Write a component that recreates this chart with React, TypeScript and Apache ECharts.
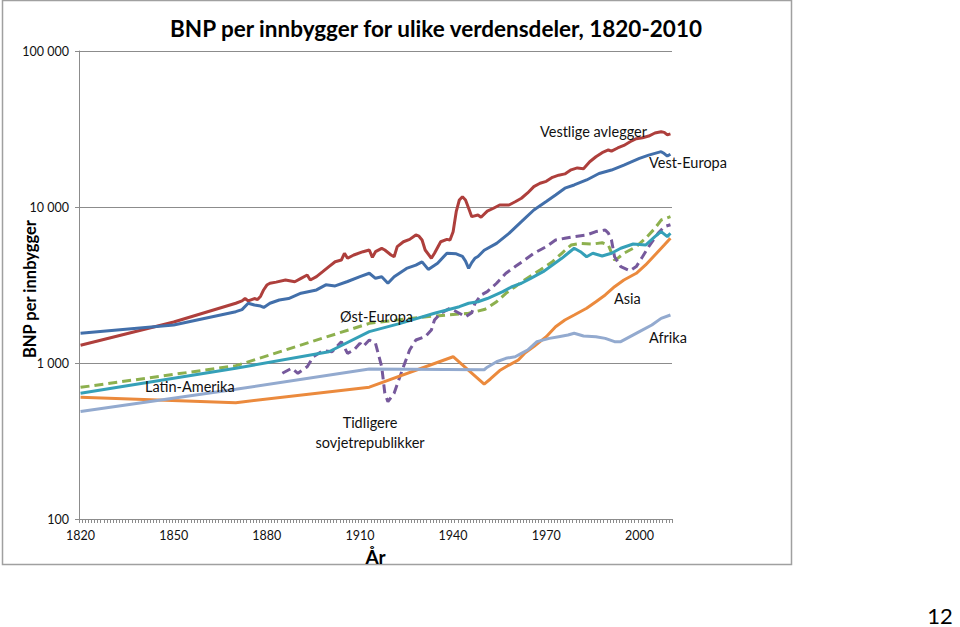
import React, { useEffect, useRef } from "react";
import * as echarts from "echarts";

const FIRST_YEAR = 1820;
const LAST_YEAR = 2010;
const years: string[] = [];
for (let y = FIRST_YEAR; y <= LAST_YEAR; y++) years.push(String(y));

const yTicks = [100, 1000, 10000, 100000];

const vestligeAvlegger: [number, number][] = [
  [1820, 1300], [1850, 1830], [1870, 2415], [1872, 2500], [1873, 2590], [1874, 2500], [1876, 2590], [1877, 2550],
  [1878, 2680], [1879, 2950], [1880, 3160], [1881, 3243], [1883, 3300], [1886, 3404], [1889, 3320], [1891, 3490],
  [1893, 3665], [1894, 3404], [1896, 3575], [1898, 3848], [1900, 4150], [1902, 4460], [1904, 4570], [1905, 5050],
  [1906, 4690], [1908, 4923], [1911, 5170], [1913, 5300], [1914, 4755], [1915, 5170], [1917, 5430], [1918, 5300],
  [1920, 4923], [1921, 4800], [1922, 5570], [1924, 5990], [1926, 6200], [1928, 6620], [1929, 6500], [1930, 6140],
  [1931, 5300], [1933, 4690], [1934, 5050], [1936, 5990], [1938, 6200], [1939, 6140], [1940, 6950], [1941, 9330],
  [1942, 11090], [1943, 11640], [1944, 11090], [1945, 9820], [1946, 8670], [1948, 8890], [1949, 8600], [1951, 9400],
  [1953, 9820], [1955, 10300], [1958, 10300], [1960, 10800], [1962, 11380], [1964, 12300], [1966, 13500], [1968, 14200],
  [1970, 14600], [1972, 15500], [1974, 16000], [1976, 16300], [1978, 17300], [1980, 17800], [1982, 17600], [1984, 19500],
  [1986, 21000], [1988, 22300], [1990, 23200], [1991, 22800], [1993, 23900], [1995, 24800], [1997, 26200], [1999, 27400],
  [2001, 27800], [2003, 28500], [2005, 29800], [2007, 30400], [2008, 30100], [2009, 29000], [2010, 29400],
];

const vestEuropa: [number, number][] = [
  [1820, 1549], [1850, 1753], [1870, 2133], [1872, 2200], [1874, 2415], [1876, 2354], [1878, 2318], [1879, 2270],
  [1881, 2415], [1884, 2535], [1887, 2590], [1891, 2800], [1896, 2940], [1899, 3170], [1902, 3120], [1906, 3330],
  [1910, 3575], [1913, 3760], [1915, 3490], [1917, 3575], [1919, 3245], [1921, 3575], [1925, 4040], [1928, 4240],
  [1930, 4450], [1932, 3980], [1935, 4360], [1938, 5060], [1941, 5010], [1943, 4820], [1944, 4500], [1945, 4040],
  [1946, 4400], [1947, 4690], [1948, 4820], [1950, 5280], [1954, 5850], [1958, 6780], [1962, 8050], [1966, 9570],
  [1970, 10840], [1973, 11950], [1976, 13200], [1979, 13840], [1983, 14900], [1987, 16400], [1991, 17260], [1995, 18580],
  [2000, 20500], [2003, 21500], [2007, 22630], [2008, 22000], [2009, 21200], [2010, 21800],
];

const ostEuropa: [number, number][] = [
  [1820, 698], [1870, 960], [1913, 1795], [1929, 1960], [1938, 2030], [1945, 2084], [1950, 2200], [1951, 2250],
  [1954, 2470], [1957, 2797], [1960, 3085], [1963, 3404], [1968, 3945], [1972, 4460], [1975, 5050], [1978, 5700],
  [1981, 5850], [1985, 5790], [1988, 5900], [1990, 5700], [1992, 4570], [1993, 4690], [1995, 5050], [1999, 5570],
  [2002, 6300], [2005, 7300], [2007, 8250], [2010, 8670],
];

const latinAmerika: [number, number][] = [
  [1820, 640], [1870, 925], [1900, 1181], [1913, 1588], [1923, 1795], [1934, 2084], [1942, 2296], [1945, 2415],
  [1948, 2470], [1951, 2590], [1956, 2865], [1959, 3085], [1962, 3245], [1965, 3490], [1969, 3850], [1972, 4250],
  [1975, 4690], [1977, 5050], [1979, 5440], [1981, 5170], [1983, 4800], [1985, 5050], [1988, 4850], [1991, 5050],
  [1994, 5440], [1998, 5790], [2002, 5700], [2005, 6460], [2007, 6960], [2009, 6460], [2010, 6780],
];

const sovjet: [number, number][] = [
  [1885, 859], [1888, 925], [1890, 859], [1893, 947], [1895, 1097], [1898, 1199], [1901, 1181], [1904, 1370],
  [1906, 1153], [1908, 1211], [1910, 1337], [1911, 1273], [1913, 1404], [1915, 1337], [1917, 947], [1918, 640],
  [1919, 565], [1921, 640], [1924, 947], [1926, 1211], [1928, 1404], [1931, 1475], [1933, 1628], [1934, 1887],
  [1936, 2084], [1939, 2243], [1942, 2084], [1944, 1980], [1946, 2100], [1947, 2400], [1949, 2730], [1951, 2865],
  [1954, 3245], [1957, 3760], [1960, 4150], [1963, 4570], [1966, 5050], [1970, 5570], [1973, 6140], [1976, 6300],
  [1979, 6460], [1983, 6620], [1986, 6960], [1989, 7130], [1990, 6800], [1991, 6140], [1992, 4800], [1994, 4150],
  [1997, 3900], [1999, 4150], [2001, 4800], [2003, 5570], [2006, 6780], [2008, 7480], [2010, 7700],
];

const asia: [number, number][] = [
  [1820, 603], [1870, 557], [1913, 700], [1940, 1097], [1950, 733], [1952, 790], [1955, 895], [1958, 970],
  [1961, 1045], [1963, 1153], [1966, 1273], [1970, 1475], [1973, 1709], [1976, 1887], [1979, 2030], [1983, 2243],
  [1986, 2470], [1989, 2730], [1992, 3085], [1995, 3404], [1999, 3760], [2002, 4250], [2005, 4923], [2008, 5700],
  [2010, 6300],
];

const afrika: [number, number][] = [
  [1820, 488], [1870, 679], [1913, 916], [1950, 905], [1951, 940], [1954, 1019], [1957, 1072], [1960, 1097],
  [1962, 1153], [1964, 1211], [1967, 1370], [1971, 1438], [1974, 1475], [1977, 1511], [1979, 1550], [1982, 1490],
  [1986, 1475], [1989, 1438], [1992, 1370], [1994, 1370], [1997, 1475], [2000, 1588], [2004, 1752], [2007, 1933],
  [2010, 2030],
];

const seriesDefs = [
  { name: "Vestlige avlegger", data: vestligeAvlegger, color: "#AE3F3C", dashed: false },
  { name: "Vest-Europa", data: vestEuropa, color: "#426FAA", dashed: false },
  { name: "Øst-Europa", data: ostEuropa, color: "#8DB04E", dashed: true },
  { name: "Tidligere sovjetrepublikker", data: sovjet, color: "#76599C", dashed: true },
  { name: "Latin-Amerika", data: latinAmerika, color: "#35A0B8", dashed: false },
  { name: "Asia", data: asia, color: "#EB8A3D", dashed: false },
  { name: "Afrika", data: afrika, color: "#93AACF", dashed: false },
];

const FONT = "Lato, 'Open Sans', sans-serif";

function fmt(v: number): string {
  const n = Math.round(v);
  return String(n).replace(/\B(?=(\d{3})+(?!\d))/g, " ");
}

export default function App() {
  const ref = useRef<HTMLDivElement>(null);
  useEffect(() => {
    if (!ref.current) return;
    const chart = echarts.init(ref.current, null, { renderer: "svg" });
    const label = (text: string, x: number, y: number, align: string = "left") => ({
      type: "text",
      x,
      y,
      style: { text, fill: "#111", font: `14.5px ${FONT}`, textAlign: align, textVerticalAlign: "middle" },
      z: 100,
    });
    chart.setOption({
      animation: false,
      backgroundColor: "#fff",
      grid: { left: 79, top: 51, width: 593, height: 468, containLabel: false, outerBoundsMode: "none" },
      xAxis: {
        type: "category",
        data: years,
        boundaryGap: true,
        name: "År",
        nameLocation: "middle",
        nameGap: 22,
        nameTextStyle: { fontFamily: FONT, fontWeight: "bold", fontSize: 19, color: "#000" },
        axisLine: { lineStyle: { color: "#8c8c8c", width: 1 } },
        axisTick: { show: true, interval: 0, length: 4, lineStyle: { color: "#8c8c8c" } },
        axisLabel: { interval: 29, margin: 10, fontFamily: FONT, fontSize: 12.5, color: "#111" },
        splitLine: { show: false },
      },
      yAxis: {
        type: "log",
        logBase: 10,
        min: yTicks[0],
        max: yTicks[yTicks.length - 1],
        axisLine: { show: true, lineStyle: { color: "#8c8c8c", width: 1 } },
        axisTick: { show: true, length: 4, lineStyle: { color: "#8c8c8c" } },
        axisLabel: { margin: 10, fontFamily: FONT, fontSize: 12.5, color: "#111", formatter: (v: number) => fmt(v) },
        splitLine: { show: true, lineStyle: { color: "#8c8c8c", width: 1 } },
      },
      series: seriesDefs.map((s) => ({
        name: s.name,
        type: "line",
        data: s.data.map(([yr, v]) => [yr - FIRST_YEAR, v]),
        showSymbol: false,
        symbol: "none",
        smooth: false,
        lineStyle: { color: s.color, width: 3, type: s.dashed ? [9, 5] : "solid" },
        itemStyle: { color: s.color },
      })),
      graphic: [
        {
          type: "rect",
          shape: { x: 2.5, y: 0.5, width: 789, height: 564 },
          style: { fill: "none", stroke: "#a0a0a0", lineWidth: 1.5 },
          z: -1,
        },
        {
          type: "text",
          x: 436,
          y: 28,
          style: {
            text: "BNP per innbygger for ulike verdensdeler, 1820-2010",
            fill: "#000",
            font: `bold 22.5px ${FONT}`,
            textAlign: "center",
            textVerticalAlign: "middle",
          },
        },
        {
          type: "text",
          x: 30,
          y: 289,
          rotation: Math.PI / 2,
          style: {
            text: "BNP per innbygger",
            fill: "#000",
            font: `bold 16.5px ${FONT}`,
            textAlign: "center",
            textVerticalAlign: "middle",
          },
        },
        label("Vestlige avlegger", 540, 131),
        label("Vest-Europa", 649, 162),
        label("Øst-Europa", 340, 316),
        label("Asia", 614, 298),
        label("Afrika", 649, 337),
        label("Latin-Amerika", 145, 386),
        label("Tidligere", 370, 422, "center"),
        label("sovjetrepublikker", 370, 442, "center"),
        {
          type: "text",
          x: 940,
          y: 615,
          style: { text: "12", fill: "#000", font: `22px ${FONT}`, textAlign: "center", textVerticalAlign: "middle" },
        },
      ],
    });
    return () => chart.dispose();
  }, []);
  return <div ref={ref} style={{ position: "fixed", left: 0, top: 0, width: 960, height: 627 }} />;
}
